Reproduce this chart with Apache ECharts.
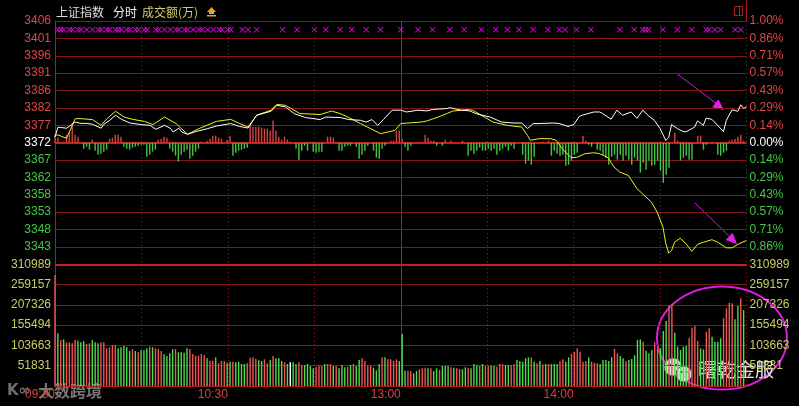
<!DOCTYPE html>
<html><head><meta charset="utf-8">
<script src="https://cdn.jsdelivr.net/npm/echarts@6/dist/echarts.min.js"></script>
<style>html,body{margin:0;padding:0;background:#000;}#c{width:799px;height:406px;}</style>
</head><body><div id="c"></div>
<script>
// ---------- data ----------
const PREV_CLOSE = 3372.0;
const PRICE_TICKS = ['3343','3348','3353','3358','3362','3367','3372','3377','3382','3386','3391','3396','3401','3406'];
const PCT_TICKS = ['0.86%','0.71%','0.57%','0.43%','0.29%','0.14%','0.00%','0.14%','0.29%','0.43%','0.57%','0.71%','0.86%','1.00%'];
const VOL_TICKS = ['','51831','103663','155494','207326','259157','310989'];
const VOL_MAX = 310989;
const TIME_TICKS = {0:'09:30', 60:'10:30', 120:'13:00', 180:'14:00'};

const PRICE_MIN = [0,1,2,4,7,9,11,13,16,17,19,21,23,26,30,33,35,38,40,41,43,44,46,49,53,56,61,64,67,70,75,77,80,83,87,92,94,99,102,106,108,110,112,114,117,120,122,126,129,131,136,137,141,144,146,151,155,159,162,164,166,168,173,175,178,180,182,183,187,189,190,193,195,197,200,202,204,206,208,210,212,213,214,216,218,219,222,223,225,226,228,232,233,235,237,238,239,240];
const PRICE_VAL = [3373.55,3376.25,3376.2,3376.0,3377.7,3377.35,3377.35,3377.1,3376.0,3377.1,3378.2,3379.6,3378.5,3377.45,3377.0,3376.8,3375.7,3376.8,3376.0,3374.95,3376.0,3374.95,3374.3,3375.1,3375.9,3376.6,3377.3,3376.5,3376.05,3379.6,3380.7,3382.35,3381.9,3380.05,3378.95,3378.4,3379.1,3378.95,3378.4,3378.2,3377.7,3378.4,3376.8,3378.4,3381.0,3381.0,3380.5,3381.0,3380.8,3381.2,3381.45,3381.7,3381.0,3380.8,3380.05,3379.1,3377.7,3377.45,3377.45,3375.9,3377.3,3377.3,3377.45,3377.3,3376.5,3377.0,3379.3,3379.6,3380.5,3380.5,3380.1,3378.5,3381.0,3379.6,3380.5,3378.75,3381.0,3379.45,3378.2,3375.9,3372.6,3373.45,3377.0,3375.9,3375.1,3375.0,3376.3,3378.05,3376.8,3378.8,3378.45,3375.1,3378.2,3381.1,3380.7,3382.5,3381.5,3381.9];

const AVG_MIN = [0,1,4,7,9,13,16,18,21,24,27,31,34,38,42,46,50,56,61,64,67,70,75,77,80,85,92,96,99,102,106,113,118,120,127,129,133,136,138,143,145,149,152,157,162,164,165,168,172,174,176,179,181,184,187,189,192,194,196,199,202,207,209,211,212,213,214,215,217,219,221,223,225,228,230,233,235,237,240];
const AVG_VAL = [3374.0,3374.15,3373.2,3378.65,3378.65,3378.4,3376.8,3378.65,3380.7,3379.1,3378.45,3377.9,3377.0,3379.1,3377.3,3374.3,3375.9,3377.9,3378.45,3377.3,3376.35,3379.6,3381.0,3382.6,3382.35,3380.05,3379.8,3380.75,3380.05,3378.95,3377.3,3374.5,3375.4,3377.3,3377.7,3378.0,3379.1,3380.05,3380.75,3381.15,3381.0,3379.1,3377.7,3376.8,3376.3,3374.0,3372.65,3373.1,3373.1,3372.65,3370.35,3367.9,3367.9,3368.95,3369.2,3368.95,3367.8,3365.25,3363.85,3362.9,3359.25,3355.5,3352.75,3348.6,3344.0,3341.4,3342.1,3344.4,3345.5,3344.0,3341.9,3343.8,3344.4,3345.1,3344.4,3342.85,3342.85,3343.8,3344.9];

const VOL = [283600,134700,117500,119300,111700,111700,109100,117500,115800,111700,
114200,107300,109100,117500,111700,109100,111700,111700,96300,98900,
104800,104800,96300,98900,102200,98900,89400,94500,89400,86100,
92000,92000,96300,100400,98900,96300,94500,89400,81000,76700,
83500,93800,94500,86100,86100,85100,96300,94500,81800,77400,
77400,81800,79200,70700,64700,64700,73300,58000,63900,63900,
59500,62000,62000,61000,62000,56000,56000,58000,73000,73000,
69000,66000,63900,68200,58000,66400,76700,70800,70800,63900,
60600,56200,60600,60600,56200,60600,53700,53700,56200,51100,
45200,49300,51900,51900,56200,56200,56200,51100,51100,45200,
53700,47800,49300,53700,56200,51900,66400,70800,63900,51900,
51900,46800,40100,55400,73300,73300,68200,68200,63900,68200,
63900,132900,39100,39100,38300,32500,38300,42600,45200,46800,
45200,45200,38300,45200,40900,51100,51100,51100,47800,46800,
45200,43400,42600,47800,46800,45200,56200,53700,51900,56200,
51100,51100,51900,51100,49300,56200,55400,53700,53700,53700,
55400,66400,63900,62000,70800,73300,73300,62000,58000,64000,
55000,56000,56000,56000,56000,56000,64000,68200,62100,73300,
81800,87700,96300,87700,62100,63900,73300,62100,59500,58000,
56200,66400,66400,63900,73300,94500,83500,76700,70700,63900,
66400,69000,78400,117500,119300,113200,90300,83500,92000,111700,
96300,96300,140500,166100,207000,209500,136200,100400,92000,100400,
102200,123400,149000,153300,115000,96300,93800,138800,147400,126000,
113200,113200,121900,173000,198600,212900,211300,170400,204400,224100,194200];
const VOL_DIR = 'rgrgrrrrgg'+'grrgggrrrr'+'rrgggggrgr'+'gggrgrrrgg'+'ggrggggrrr'+'rrrgrrgrrr'+'ggrggggrrr'+'rggrrgrggg'+'rgwggrrggg'+'grrrgrrgrg'+'ggrgrggrrr'+'rgggrgrrrr'+'gggrrggrrr'+'grggrgggrg'+'rrggrgggrg'+'rrggrrrggr'+'rgggggrgrg'+'rgrgggrrgg'+'rrrrrrgrrr'+'gggggrrggr'+'gggggrgggr'+'rgggrrgggg'+'grrrrggrrg'+'gggrrrrggrg';

const BREADTH_MIN = [0,1,3,4,5,6,7,8,10,11,12,13,14,15,16,17,18,19,20,21,22,23,24,25,26,27,28,29,30,31,32,33,34,35,36,37,38,39,40,41,42,43,44,45,46,47,48,49,50,51,53,54,55,56,57,58,60,61,62,63,64,65,66,67,68,69,70,71,72,73,74,75,76,77,78,79,80,81,82,84,85,86,87,88,89,90,91,92,93,95,96,97,98,99,100,101,102,103,105,106,107,108,109,111,112,113,114,115,117,118,119,120,121,122,123,124,129,130,131,132,133,135,136,138,142,144,145,146,147,148,149,150,151,152,153,154,155,156,157,158,159,160,163,164,165,166,167,170,172,173,174,175,176,177,178,179,180,181,182,184,185,186,187,189,190,191,192,193,194,195,196,197,198,199,200,201,202,203,204,205,206,207,208,209,210,211,212,213,214,216,217,218,219,220,221,222,224,225,226,227,229,231,232,233,234,235,236,237,238,239,240];
const BREADTH_VAL = [8,5,1,8,10,17,8,6,-6,-4,-7,3,-8,-12,-11,-9,-7,4,5,8,8,6,-4,-6,-7,-5,-4,-3,-2,-2,-14,-12,-9,-7,3,4,6,5,-6,-9,-13,-19,-12,-9,-7,-16,-13,-9,-6,1,2,4,7,7,5,4,3,7,-13,-10,-8,-7,-6,-5,17,16,16,16,15,14,14,12,22,12,6,3,6,3,1,-6,-17,-8,-3,-8,1,-9,-10,-9,-9,6,6,5,1,-8,-8,-4,-3,-3,-4,-16,-12,-8,-3,-8,-15,-16,-6,-3,2,2,12,12,4,-4,-8,-3,8,5,2,2,-3,-3,3,2,2,-13,-8,-11,-8,-5,-8,-8,-6,-8,-6,-12,-8,-6,-4,-8,-3,-6,-12,-21,-18,-22,-14,1,2,-13,-8,-11,-13,-12,-23,-22,-18,-12,-10,7,2,-2,-4,-7,-8,-12,-15,-22,-14,-12,-17,-12,-18,-13,-17,-22,-15,-18,-30,-20,-27,-18,-23,-22,-18,-28,-40,-32,-25,10,2,-18,-15,-13,-17,-17,7,7,-7,-2,1,-12,-13,-10,-8,2,3,4,6,8,2];

const MARK_MIN = [1,2,3,5,6,8,9,11,13,15,16,18,19,21,22,23,25,26,28,29,31,32,35,36,38,40,42,43,45,46,48,50,51,53,55,57,58,60,61,65,67,70,79,84,90,94,99,103,108,113,120,126,131,137,142,148,153,157,161,166,171,175,177,181,186,196,201,204,205,206,211,216,221,226,227,229,231,236,238];

// ---------- build ----------
const toStep = p => (p / PREV_CLOSE - 1) * 100 * 7;
const priceData = PRICE_MIN.map((m, k) => [m, toStep(PRICE_VAL[k])]);
const avgData = AVG_MIN.map((m, k) => [m, toStep(AVG_VAL[k])]);
const RED = '#f05454', GREEN = '#4fdc4f';
const volData = VOL.map((v, i) => ({value: [i, v], itemStyle: {color: VOL_DIR[i] === 'r' ? RED : VOL_DIR[i] === 'g' ? GREEN : '#ffffff'}}));
const breadthData = BREADTH_MIN.map((m, k) => ({value: [m, BREADTH_VAL[k]], itemStyle: {color: BREADTH_VAL[k] >= 0 ? '#d84444' : '#44c444'}}));
const markData = MARK_MIN.map(m => [m, 6.5]);

const FONT = "'Liberation Sans','Noto Sans CJK SC',sans-serif";
const GRID_C = '#861616';
const FRAME_C = '#a81c1c';
const priceColor = v => { v = +v; return v > 0.5 ? '#e04646' : (v < -0.5 ? '#44c844' : '#ffffff'); };

const chart = echarts.init(document.getElementById('c'), null, {renderer: 'canvas'});
chart.setOption({
  backgroundColor: '#000000',
  animation: false,
  textStyle: {fontFamily: FONT},
  grid: [
    {left: 55, top: 21, width: 691.5, height: 243.3},
    {left: 55, top: 264.3, width: 691.5, height: 121.7}
  ],
  xAxis: [
    {gridIndex: 0, type: 'value', min: 0, max: 240, interval: 30,
     axisLine: {show: false}, axisTick: {show: false}, axisLabel: {show: false},
     splitLine: {show: true, lineStyle: {color: '#9a2020', type: [1, 3], width: 1}}},
    {gridIndex: 0, type: 'value', min: 0, max: 241, show: false},
    {gridIndex: 1, type: 'value', min: 0, max: 240, interval: 30,
     axisLine: {show: true, lineStyle: {color: FRAME_C}}, axisTick: {show: false},
     axisLabel: {show: true, color: '#d84040', fontSize: 12, fontFamily: FONT, align: 'right', margin: 3,
       formatter: v => TIME_TICKS[v] || ''},
     splitLine: {show: true, lineStyle: {color: '#9a2020', type: [1, 3], width: 1}}},
    {gridIndex: 1, type: 'value', min: 0, max: 241, show: false}
  ],
  yAxis: [
    {gridIndex: 0, type: 'value', position: 'left', min: -7, max: 7, interval: 1,
     axisLine: {show: true, lineStyle: {color: FRAME_C}}, axisTick: {show: false},
     axisLabel: {fontSize: 12, fontFamily: FONT, margin: 4, color: priceColor,
       formatter: v => { const k = Math.round(v) + 6; return k >= 0 ? PRICE_TICKS[k] : ''; }},
     splitLine: {show: true, lineStyle: {color: GRID_C, width: 1}}},
    {gridIndex: 0, type: 'value', position: 'right', min: -7, max: 7, interval: 1,
     axisLine: {show: true, lineStyle: {color: FRAME_C}}, axisTick: {show: false},
     axisLabel: {fontSize: 12, fontFamily: FONT, margin: 3, color: priceColor,
       formatter: v => { const k = Math.round(v) + 6; return k >= 0 ? PCT_TICKS[k] : ''; }},
     splitLine: {show: false}},
    {gridIndex: 0, type: 'value', min: -121.5, max: 121.5, show: false},
    {gridIndex: 1, type: 'value', position: 'left', min: 0, max: VOL_MAX, interval: VOL_MAX / 6,
     axisLine: {show: true, lineStyle: {color: FRAME_C}}, axisTick: {show: false},
     axisLabel: {fontSize: 12, fontFamily: FONT, margin: 4, color: '#cccc66',
       formatter: v => VOL_TICKS[Math.round(v / (VOL_MAX / 6))] || ''},
     splitLine: {show: true, lineStyle: {color: GRID_C, width: 1}}},
    {gridIndex: 1, type: 'value', position: 'right', min: 0, max: VOL_MAX, interval: VOL_MAX / 6,
     axisLine: {show: true, lineStyle: {color: FRAME_C}}, axisTick: {show: false},
     axisLabel: {fontSize: 12, fontFamily: FONT, margin: 3, color: '#cccc66',
       formatter: v => VOL_TICKS[Math.round(v / (VOL_MAX / 6))] || ''},
     splitLine: {show: false}}
  ],
  series: [
    {type: 'bar', xAxisIndex: 1, yAxisIndex: 2, data: breadthData, barWidth: 1.4, z: 1,
     markLine: {silent: true, symbol: 'none', label: {show: false}, z: 1,
       data: [{yAxis: 0, lineStyle: {color: '#cc1c1c', width: 2, type: 'solid'}},
              {yAxis: -121.5, lineStyle: {color: '#cc1c1c', width: 2, type: 'solid'}}]}},
    {type: 'line', xAxisIndex: 0, yAxisIndex: 0, data: avgData, symbol: 'none', z: 3,
     lineStyle: {color: '#f0f020', width: 1},
     markLine: {silent: true, symbol: 'none', label: {show: false}, z: 2,
       data: [{xAxis: 120, lineStyle: {color: '#b02222', width: 1, type: 'solid'}}]}},
    {type: 'line', xAxisIndex: 0, yAxisIndex: 0, data: priceData, symbol: 'none', z: 4,
     lineStyle: {color: '#ffffff', width: 1}},
    {type: 'scatter', xAxisIndex: 0, yAxisIndex: 0, data: markData, z: 4,
     symbol: 'path://M0,1L1,0L5,4L9,0L10,1L6,5L10,9L9,10L5,6L1,10L0,9L4,5Z', symbolSize: 6,
     itemStyle: {color: '#ff10ff'}},
    {type: 'bar', xAxisIndex: 3, yAxisIndex: 3, data: volData, barWidth: 1.4, z: 2},
    {type: 'line', xAxisIndex: 2, yAxisIndex: 3, data: [], symbol: 'none',
     markLine: {silent: true, symbol: 'none', label: {show: false}, z: 1,
       data: [{xAxis: 120, lineStyle: {color: '#b02222', width: 1, type: 'solid'}}]}}
  ],
  graphic: [
    {type: 'text', style: {text: '上证指数', x: 56, y: 12, fill: '#dcdcdc', font: "12px 'Noto Sans CJK SC'", verticalAlign: 'middle'}},
    {type: 'text', style: {text: '分时', x: 113, y: 12, fill: '#f0f0f0', font: "12px 'Noto Sans CJK SC'", verticalAlign: 'middle'}},
    {type: 'text', style: {text: '成交额(万)', x: 142, y: 12, fill: '#cccc70', font: "12px 'Noto Sans CJK SC'", verticalAlign: 'middle'}},
    {type: 'polygon', shape: {points: [[211.5, 7], [207, 12], [216, 12]]}, style: {fill: '#e8a030'}},
    {type: 'rect', shape: {x: 209, y: 12, width: 5, height: 2}, style: {fill: '#e8a030'}},
    {type: 'rect', shape: {x: 207, y: 15, width: 9, height: 1.5}, style: {fill: '#e8a030'}},
    {type: 'rect', shape: {x: 734.5, y: 6.5, width: 8, height: 9}, style: {fill: 'none', stroke: '#b02020', lineWidth: 1}},
    {type: 'line', shape: {x1: 739.5, y1: 6.5, x2: 739.5, y2: 15.5}, style: {stroke: '#b02020', lineWidth: 1}},
    {type: 'line', shape: {x1: 746.5, y1: 0, x2: 746.5, y2: 21}, style: {stroke: FRAME_C, lineWidth: 1}},
    {type: 'line', shape: {x1: 676, y1: 73, x2: 717, y2: 104}, style: {stroke: '#d020e0', lineWidth: 1}},
    {type: 'polygon', shape: {points: [[724, 110], [712.2, 107.3], [718.4, 99.3]]}, style: {fill: '#e020e8'}},
    {type: 'line', shape: {x1: 695, y1: 203, x2: 730, y2: 237}, style: {stroke: '#d020e0', lineWidth: 1}},
    {type: 'polygon', shape: {points: [[737, 244], [725.6, 239.9], [732.6, 232.7]]}, style: {fill: '#e020e8'}},
    {type: 'ellipse', shape: {cx: 722, cy: 338, rx: 65, ry: 51.5}, style: {fill: 'none', stroke: '#d81ee0', lineWidth: 2}},
    {type: 'circle', shape: {cx: 673, cy: 367, r: 9}, style: {fill: 'rgba(240,240,240,0.9)', stroke: '#444', lineWidth: 1}},
    {type: 'circle', shape: {cx: 684, cy: 374, r: 8}, style: {fill: 'rgba(240,240,240,0.9)', stroke: '#444', lineWidth: 1}},
    {type: 'circle', shape: {cx: 670, cy: 365, r: 1.2}, style: {fill: '#333'}},
    {type: 'circle', shape: {cx: 676, cy: 365, r: 1.2}, style: {fill: '#333'}},
    {type: 'circle', shape: {cx: 681.5, cy: 372, r: 1}, style: {fill: '#333'}},
    {type: 'circle', shape: {cx: 686.5, cy: 372, r: 1}, style: {fill: '#333'}},
    {type: 'text', style: {text: '曙乾金服', x: 698, y: 370, fill: 'rgba(245,245,245,0.95)', font: "19px 'Noto Sans CJK SC'", verticalAlign: 'middle'}},
    {type: 'text', style: {text: 'K∞', x: 7, y: 391, fill: 'rgba(200,200,200,0.55)', font: "bold 15px 'DejaVu Sans'", verticalAlign: 'middle'}},
    {type: 'text', style: {text: '大数跨境', x: 38, y: 391, fill: 'rgba(200,200,200,0.6)', font: "bold 16px 'Noto Sans CJK SC'", verticalAlign: 'middle'}}
  ]
});
</script></body></html>
